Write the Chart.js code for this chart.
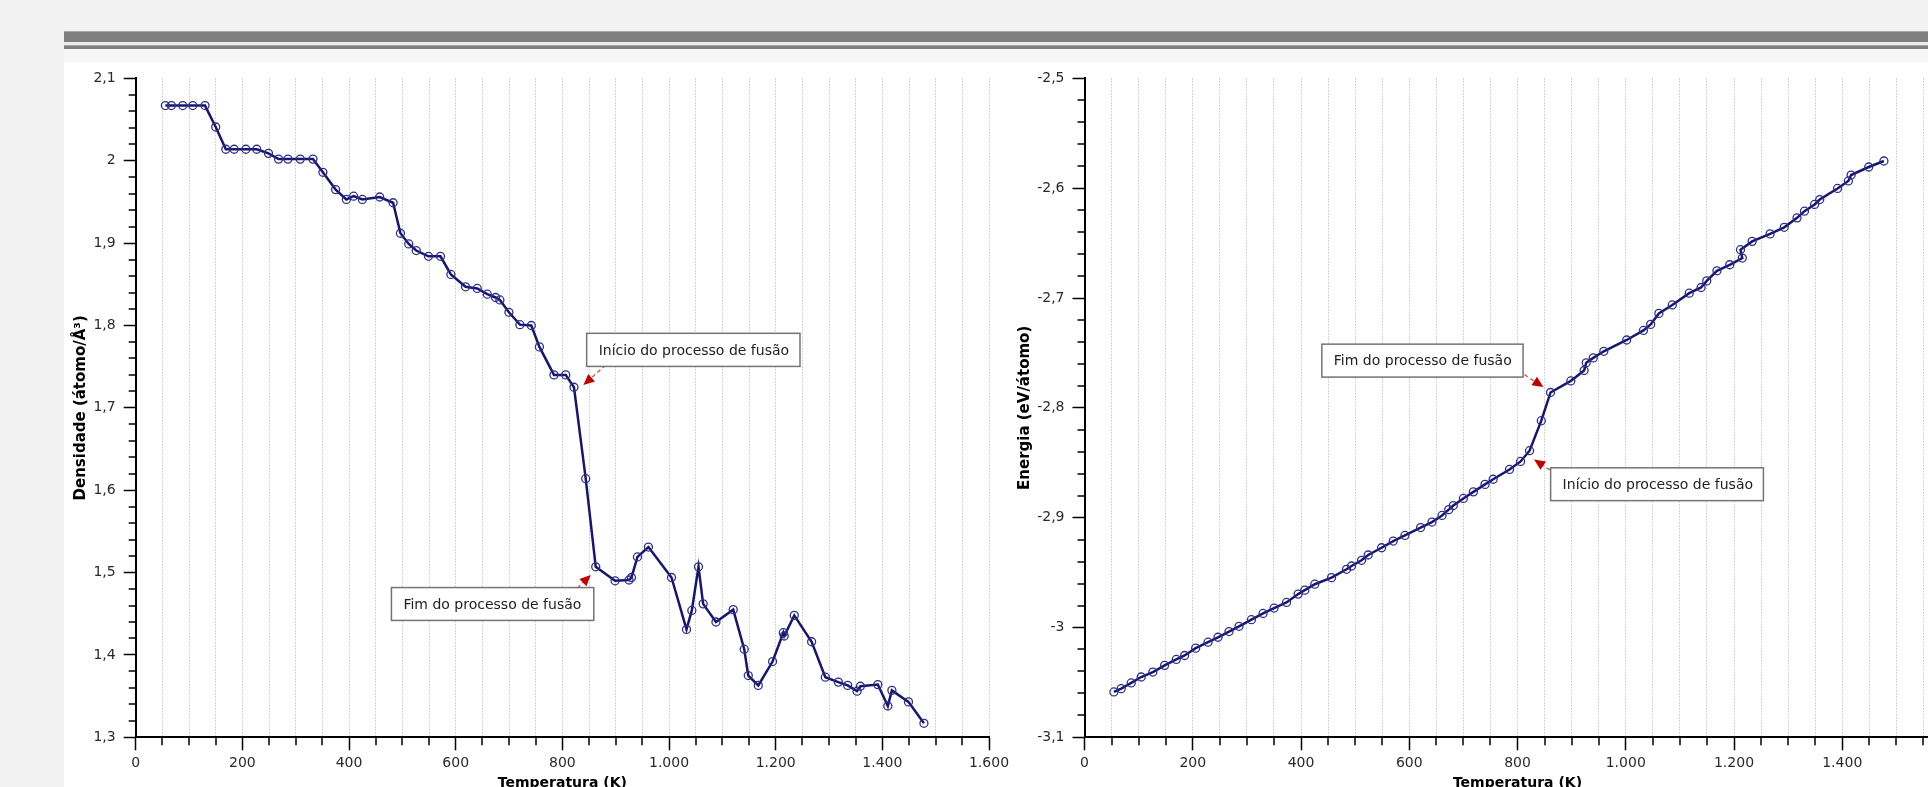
<!DOCTYPE html>
<html>
<head>
<meta charset="utf-8">
<script src="https://cdn.jsdelivr.net/npm/chart.js@4.4.0/dist/chart.umd.min.js"></script>
<style>
  html, body { margin: 0; padding: 0; }
  body { width: 1928px; height: 787px; overflow: hidden; background: #f2f2f2; position: relative; }
  .bar { position: absolute; left: 64px; right: 0; background: #7f7f7f; border-top: 1px solid #a8a8a8; }
  #bar1 { top: 31px; height: 10px; }
  #gap { position: absolute; left: 64px; right: 0; top: 42px; height: 3px; background: #ececec; }
  #bar2 { top: 45px; height: 3px; }
  #strip { position: absolute; left: 64px; right: 0; top: 49px; height: 13px; background: #f7f7f7; }
  #panel { position: absolute; left: 64px; right: 0; top: 62px; bottom: 0; background: #fff; }
  canvas { position: absolute; top: 62px; }
  #densChart { left: 64px; }
  #enerChart { left: 1000px; }
</style>
</head>
<body>
<div id="bar1" class="bar"></div>
<div id="gap"></div>
<div id="bar2" class="bar"></div>
<div id="strip"></div>
<div id="panel"></div>
<canvas id="densChart" width="960" height="760"></canvas>
<canvas id="enerChart" width="1000" height="760"></canvas>
<script>
// Densidade x Temperatura (left)
var tempDens = [55.6, 66.9, 88.2, 107, 130, 150, 169, 184.6, 206.6, 227, 249, 267.8, 285.4, 308.6, 332.4,
  351, 374.9, 395, 408.6, 425, 457.5, 482.6, 496.4, 512, 526, 549, 571.5, 591, 618.5, 640.4, 659.2,
  674.8, 682.9, 699.8, 720.4, 741.8, 757, 784.3, 806.3, 821.8, 843.8, 862.6, 898.8, 925.1, 929.6,
  940.8, 961.4, 1004.7, 1032.8, 1042.8, 1055.3, 1064, 1088, 1120.4, 1141, 1148.6, 1167.4, 1194.2,
  1214.3, 1216, 1234.9, 1267.4, 1293.1, 1317.5, 1335, 1352.6, 1358.9, 1391.5, 1410.3, 1417.9, 1449, 1478];
var densidade = [2.067, 2.067, 2.067, 2.067, 2.067, 2.041, 2.014, 2.014, 2.014, 2.014, 2.009, 2.002, 2.002, 2.002, 2.002,
  1.986, 1.965, 1.953, 1.957, 1.953, 1.956, 1.949, 1.912, 1.899, 1.891, 1.884, 1.884, 1.862, 1.847, 1.845, 1.838,
  1.834, 1.831, 1.816, 1.801, 1.800, 1.774, 1.740, 1.740, 1.725, 1.614, 1.507, 1.490, 1.491, 1.494,
  1.519, 1.531, 1.494, 1.431, 1.454, 1.507, 1.462, 1.440, 1.455, 1.407, 1.375, 1.363, 1.392,
  1.427, 1.423, 1.448, 1.416, 1.373, 1.367, 1.363, 1.356, 1.362, 1.364, 1.338, 1.357, 1.343, 1.317];

// Energia x Temperatura (right)
var tempEner = [54.3, 67.8, 86.3, 104.8, 126.3, 148, 169.6, 185, 205.4, 228.2, 246.7, 267, 285.5, 308.4, 329.9,
  350.3, 373.2, 394.7, 407, 425.5, 456.4, 484.1, 493.4, 511.9, 524.1, 548.9, 570.4, 592, 621, 642,
  660.6, 673, 681.4, 700, 718.5, 740, 755, 785.2, 805.7, 822.3, 844, 861, 898.5, 923, 927, 940, 959.5,
  1001.7, 1032.7, 1046, 1061.2, 1086, 1117.3, 1139.2, 1149.7, 1168.5, 1192.1, 1215.3, 1212, 1233.5,
  1266.7, 1292.8, 1316.5, 1330.2, 1348.9, 1358.4, 1391.3, 1411.3, 1416.4, 1448.9, 1477];
var energia = [-3.0587, -3.0557, -3.0505, -3.0451, -3.0406, -3.0345, -3.0291, -3.0255, -3.0188, -3.0134, -3.0089,
  -3.0037, -2.9989, -2.9929, -2.9872, -2.9823, -2.9772, -2.9696, -2.9660, -2.9606, -2.9546, -2.9470, -2.9440,
  -2.9388, -2.9340, -2.9274, -2.9213, -2.9162, -2.9090, -2.9040, -2.8980, -2.8927, -2.8890, -2.8825, -2.8765,
  -2.8697, -2.8650, -2.8561, -2.8488, -2.8390, -2.8117, -2.7860, -2.7755, -2.7660, -2.7590, -2.7545, -2.7485,
  -2.7382, -2.7295, -2.7240, -2.7140, -2.7063, -2.6956, -2.6904, -2.6844, -2.6752, -2.6697, -2.6636, -2.6560,
  -2.6484, -2.6416, -2.6356, -2.6270, -2.6209, -2.6148, -2.6103, -2.6002, -2.5934, -2.5880, -2.5807, -2.5752];

// tick labels
var xLabels = [0, 200, 400, 600, 800, 1000, 1200, 1400, 1600];
var densLabels = [1.3, 1.4, 1.5, 1.6, 1.7, 1.8, 1.9, 2.0, 2.1];
var enerLabels = [-3.1, -3.0, -2.9, -2.8, -2.7, -2.6, -2.5];

Chart.defaults.font.family = "'DejaVu Sans', Verdana, sans-serif";
Chart.defaults.font.size = 14;
Chart.defaults.color = '#2a2a2a';

function near(list, v) {
  return list.some(function (l) { return Math.abs(l - v) < 1e-6; });
}
function fmtX(v) { return String(v).replace(/\B(?=(\d{3})+(?!\d))/g, '.'); }
function fmtY(v) { return String(Math.round(v * 10) / 10).replace('.', ','); }
function stepTicks(min, max, step) {
  var out = [], n = Math.round((max - min) / step);
  for (var i = 0; i <= n; i++) out.push({ value: Math.round((min + i * step) * 1000) / 1000 });
  return out;
}

// short ticks between the labelled ones
var minorTicks = {
  id: 'minorTicks',
  afterDraw: function (chart, args, opts) {
    var ctx = chart.ctx, sx = chart.scales.x, sy = chart.scales.y;
    ctx.save();
    ctx.strokeStyle = '#000';
    ctx.lineWidth = 1.5;
    sx.ticks.forEach(function (t) {
      if (near(xLabels, t.value)) return;
      var px = Math.round(sx.getPixelForValue(t.value));
      ctx.beginPath(); ctx.moveTo(px, sx.top); ctx.lineTo(px, sx.top + 8); ctx.stroke();
    });
    sy.ticks.forEach(function (t) {
      if (near(opts.yLabels, t.value)) return;
      var py = Math.round(sy.getPixelForValue(t.value));
      ctx.beginPath(); ctx.moveTo(sy.right, py); ctx.lineTo(sy.right - 7, py); ctx.stroke();
    });
    ctx.restore();
  }
};

// callout boxes with dashed arrows
var notes = {
  id: 'notes',
  afterDatasetsDraw: function (chart, args, opts) {
    var ctx = chart.ctx, sx = chart.scales.x, sy = chart.scales.y;
    (opts.items || []).forEach(function (n) {
      var x1 = sx.getPixelForValue(n.box[0]), y1 = sy.getPixelForValue(n.box[1]);
      var x2 = sx.getPixelForValue(n.box[2]), y2 = sy.getPixelForValue(n.box[3]);
      var ax = sx.getPixelForValue(n.from[0]), ay = sy.getPixelForValue(n.from[1]);
      var bx = sx.getPixelForValue(n.to[0]), by = sy.getPixelForValue(n.to[1]);
      var ang = Math.atan2(by - ay, bx - ax), c = Math.cos(ang), s = Math.sin(ang);
      var hl = 11, hw = 5;
      ctx.save();
      ctx.strokeStyle = '#b46c6c';
      ctx.lineWidth = 1.5;
      ctx.setLineDash([4, 3]);
      ctx.beginPath(); ctx.moveTo(ax, ay); ctx.lineTo(bx - c * hl, by - s * hl); ctx.stroke();
      ctx.setLineDash([]);
      ctx.fillStyle = '#c00000';
      ctx.beginPath();
      ctx.moveTo(bx, by);
      ctx.lineTo(bx - c * hl - s * hw, by - s * hl + c * hw);
      ctx.lineTo(bx - c * hl + s * hw, by - s * hl - c * hw);
      ctx.closePath(); ctx.fill();
      ctx.fillStyle = '#fff';
      ctx.fillRect(x1, y1, x2 - x1, y2 - y1);
      ctx.strokeStyle = '#747474';
      ctx.lineWidth = 1.5;
      ctx.strokeRect(x1, y1, x2 - x1, y2 - y1);
      ctx.fillStyle = '#1e1e1e';
      ctx.font = "14px 'DejaVu Sans', Verdana, sans-serif";
      ctx.textBaseline = 'middle';
      ctx.fillText(n.text, x1 + 12, (y1 + y2) / 2 + 1);
      ctx.restore();
    });
  }
};

function makeChart(id, xs, ys, yMin, yMax, yTitle, yLabels, lay, items) {
  var pts = xs.map(function (x, i) { return { x: x, y: ys[i] }; });
  return new Chart(document.getElementById(id), {
    type: 'line',
    data: {
      datasets: [{
        data: pts,
        borderColor: '#16166e',
        borderWidth: 2.5,
        tension: 0,
        fill: false,
        pointRadius: 4,
        pointBorderColor: '#2e2e8c',
        pointBorderWidth: 1.3,
        pointBackgroundColor: 'rgba(255,255,255,0)'
      }]
    },
    options: {
      responsive: false,
      animation: false,
      events: [],
      layout: { padding: { left: 0, right: lay.pr, top: 12.7, bottom: 0 } },
      plugins: {
        legend: { display: false },
        tooltip: { enabled: false },
        minorTicks: { yLabels: yLabels },
        notes: { items: items }
      },
      scales: {
        x: {
          type: 'linear', min: 0, max: 1600,
          afterBuildTicks: function (s) { s.ticks = stepTicks(0, 1600, 50); },
          afterFit: function (s) { s.height = 84.7; },
          ticks: {
            autoSkip: false, maxRotation: 0, padding: 5, color: '#2a2a2a',
            callback: function (v) { return near(xLabels, v) ? fmtX(v) : ''; }
          },
          grid: {
            color: '#acacac', lineWidth: 1, drawOnChartArea: true, drawTicks: true,
            tickLength: 13, tickWidth: 1.5,
            tickColor: function (c) { return c.tick && near(xLabels, c.tick.value) ? '#000' : 'rgba(0,0,0,0)'; }
          },
          border: { color: '#000', width: 2, dash: [1, 2] },
          title: {
            display: true, text: 'Temperatura (K)', color: '#000',
            font: { weight: 'bold', size: 14 }, padding: { top: 0, bottom: 30 }
          }
        },
        y: {
          type: 'linear', min: yMin, max: yMax,
          afterBuildTicks: function (s) { s.ticks = stepTicks(yMin, yMax, 0.02); },
          afterFit: function (s) { s.width = lay.yw; },
          ticks: {
            autoSkip: false, padding: 8, color: '#2a2a2a',
            callback: function (v) { return near(yLabels, v) ? fmtY(v) : ''; }
          },
          grid: {
            drawOnChartArea: false, drawTicks: true, tickLength: 12, tickWidth: 1.5,
            tickColor: function (c) { return c.tick && near(yLabels, c.tick.value) ? '#000' : 'rgba(0,0,0,0)'; }
          },
          border: { color: '#000', width: 2 },
          title: {
            display: true, text: yTitle, color: '#000',
            font: { weight: 'bold', size: 15 }, padding: { top: lay.tp, bottom: 0 }
          }
        }
      }
    },
    plugins: [minorTicks, notes]
  });
}

makeChart('densChart', tempDens, densidade, 1.3, 2.1, 'Densidade (átomo/Å³)', densLabels,
  { yw: 71.7, pr: 35, tp: 8.5 },
  [
    { text: 'Início do processo de fusão', box: [845.6, 1.7905, 1245.6, 1.7503], from: [890.8, 1.7575], to: [839.5, 1.7276] },
    { text: 'Fim do processo de fusão', box: [479.5, 1.4818, 858.9, 1.4419], from: [818.8, 1.475], to: [853.2, 1.4972] }
  ]);

makeChart('enerChart', tempEner, energia, -3.1, -2.5, 'Energia (eV/átomo)', enerLabels,
  { yw: 84.5, pr: 49.5, tp: 16.5 },
  [
    { text: 'Fim do processo de fusão', box: [438.5, -2.742, 810.3, -2.772], from: [791.2, -2.7629], to: [847.9, -2.781] },
    { text: 'Início do processo de fusão', box: [861.2, -2.8546, 1254.3, -2.8845], from: [870.6, -2.8601], to: [830.6, -2.8471] }
  ]);
</script>
</body>
</html>
